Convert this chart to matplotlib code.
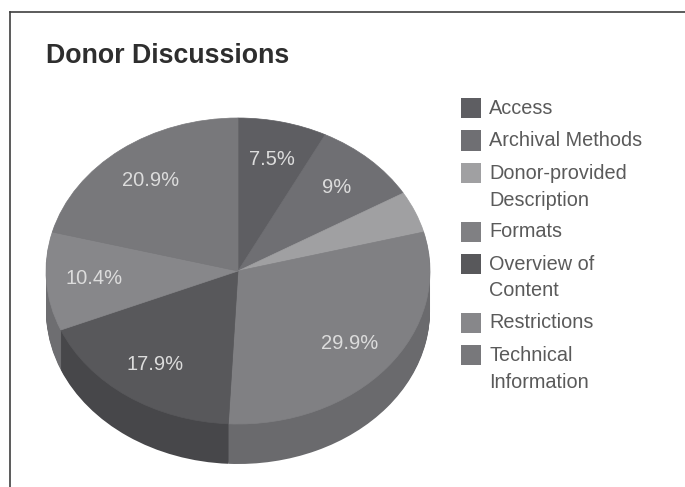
import matplotlib
matplotlib.use('Agg')
import matplotlib.pyplot as plt
from matplotlib.lines import Line2D
from matplotlib.patches import Rectangle

categories = ['Access', 'Archival Methods', 'Donor-provided\nDescription', 'Formats',
              'Overview of\nContent', 'Restrictions', 'Technical\nInformation']
shares = [7.5, 9, 4.4, 29.9, 17.9, 10.4, 20.9]
top_colors = ['#5e5e62', '#6f6f73', '#a0a0a2', '#808083', '#58585b', '#87878a', '#78787b']
side_colors = ['#4c4c4f', '#5a5a5d', '#828284', '#6a6a6d', '#47474a', '#6e6e71', '#636366']

W, H = 685, 487
CX, CY = 238, 271      # pie centre, pixels
RX, RY = 192, 153      # top face radii, pixels
DEPTH = 40


def px(x, y):
    # pixel position -> figure fraction
    return x / W, 1 - y / H


def pct_label(p):
    # the small donor slice has no label
    return '' if p < 5 else f'{round(p, 1):g}%'


plt.rcParams['font.family'] = ['Liberation Sans', 'DejaVu Sans']

fig = plt.figure(figsize=(W / 100, H / 100), dpi=100, facecolor='white')
ax = fig.add_axes([0, 0, 1, 1])

# side wall: same pie stacked downwards, then the top face over it
for d in range(DEPTH, 0, -1):
    ax.pie(shares, colors=side_colors, startangle=90, counterclock=False,
           center=(0, -d / RY), radius=1,
           wedgeprops=dict(linewidth=0.6, edgecolor=None))

wedges, _, autotexts = ax.pie(shares, colors=top_colors, startangle=90, counterclock=False,
                              center=(0, 0), radius=1, autopct=pct_label, pctdistance=0.75,
                              textprops=dict(color='#dcdcdc', fontsize=14.5))
for w, c in zip(wedges, top_colors):
    w.set_edgecolor(c)
    w.set_linewidth(0.5)

ax.set_aspect('auto')
ax.set_xlim(-CX / RX, (W - CX) / RX)
ax.set_ylim((CY - H) / RY, CY / RY)
ax.axis('off')

fig.text(*px(46, 56), 'Donor Discussions', fontsize=19.3, fontweight='bold',
         color='#2e2e2e', ha='left', va='center')

# legend column, wrapped labels take a second line
y = 107
for label, color in zip(categories, top_colors):
    sx, sy = px(461, y + 11)
    fig.add_artist(Rectangle((sx, sy), 20 / W, 20 / H, transform=fig.transFigure,
                             facecolor=color, edgecolor='none'))
    lines = label.split('\n')
    for i, line in enumerate(lines):
        fig.text(*px(489, y + 7 + i * 26.5), line, fontsize=14.3, color='#5a5a5a',
                 ha='left', va='baseline')
    y += 32.5 + (len(lines) - 1) * 26

# frame on the top and left only
fig.add_artist(Line2D([px(10, 0)[0], 1], [px(0, 12)[1]] * 2, color='#404040', lw=1.2,
                      transform=fig.transFigure))
fig.add_artist(Line2D([px(10, 0)[0]] * 2, [0, px(0, 12)[1]], color='#404040', lw=1.2,
                      transform=fig.transFigure))

fig.savefig('out.png', dpi=100, facecolor='white')
